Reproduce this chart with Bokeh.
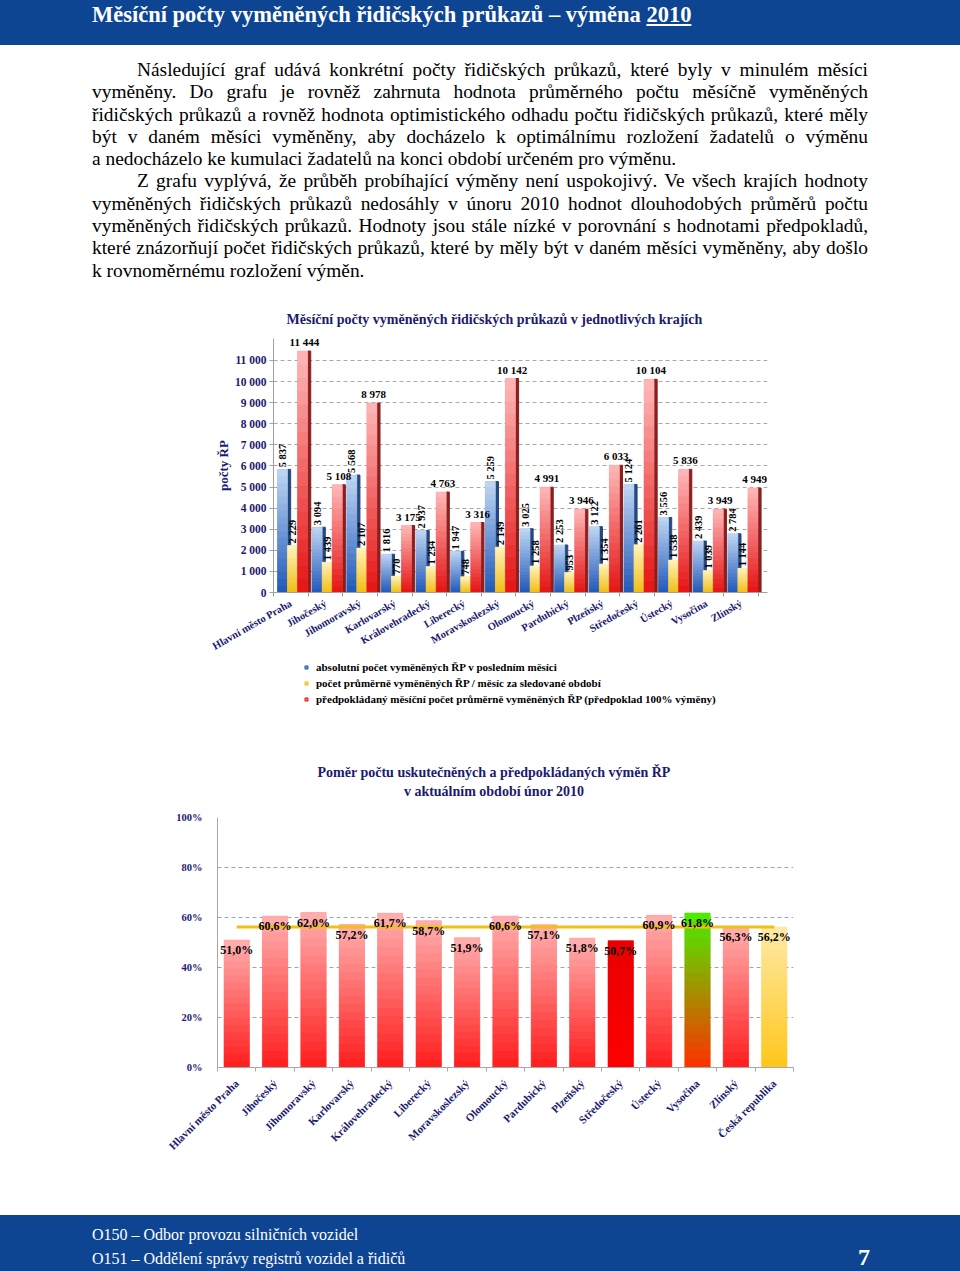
from bokeh.plotting import figure
from bokeh.models import (Range1d, ColumnDataSource, Div, Title, Legend,
                          LegendItem, FixedTicker)
from bokeh.transform import dodge
from bokeh.layouts import column
from bokeh.core.properties import value
from bokeh.embed import file_html
from bokeh.resources import INLINE

# ---------------- data ----------------
kraje = ["Hlavní město Praha", "Jihočeský", "Jihomoravský", "Karlovarský", "Královehradecký",
         "Liberecký", "Moravskoslezský", "Olomoucký", "Pardubický", "Plzeňský",
         "Středočeský", "Ústecký", "Vysočina", "Zlínský"]
absolutni = [5837, 3094, 5568, 1816, 2937, 1947, 5259, 3025, 2253, 3122, 5124, 3556, 2439, 2784]
prumerne = [2229, 1439, 2107, 770, 1234, 748, 2149, 1258, 953, 1354, 2261, 1538, 1039, 1144]
predpoklad = [11444, 5108, 8978, 3175, 4763, 3316, 10142, 4991, 3946, 6033, 10104, 5836, 3949, 4949]
y1_ticks = [0, 1000, 2000, 3000, 4000, 5000, 6000, 7000, 8000, 9000, 10000, 11000]
y1_tick_labels = ["0", "1 000", "2 000", "3 000", "4 000", "5 000", "6 000", "7 000",
                  "8 000", "9 000", "10 000", "11 000"]
legenda1 = ["absolutní počet vyměněných ŘP v posledním měsíci",
            "počet průměrně vyměněných ŘP / měsíc za sledované období",
            "předpokládaný měsíční počet průměrně vyměněných ŘP (předpoklad 100% výměny)"]

kraje2 = kraje + ["Česká republika"]
pomer = [51.0, 60.6, 62.0, 57.2, 61.7, 58.7, 51.9, 60.6, 57.1, 51.8, 50.7, 60.9, 61.8, 56.3, 56.2]
pomer_cr = 56.2
y2_ticks = [0, 20, 40, 60, 80, 100]
y2_tick_labels = ["0%", "20%", "40%", "60%", "80%", "100%"]
titulek2 = ["Poměr počtu uskutečněných a předpokládaných výměn ŘP",
            "v aktuálním období únor 2010"]

nadpis = "Měsíční počty vyměněných řidičských průkazů – výměna"
nadpis_rok = "2010"
odstavec1 = [
    "Následující graf udává konkrétní počty řidičských průkazů, které byly v\u00a0minulém měsíci",
    "vyměněny. Do grafu je rovněž zahrnuta hodnota průměrného počtu měsíčně vyměněných",
    "řidičských průkazů a rovněž hodnota optimistického odhadu počtu řidičských průkazů, které měly",
    "být v\u00a0daném měsíci vyměněny, aby docházelo k\u00a0optimálnímu rozložení žadatelů o výměnu",
    "a nedocházelo ke kumulaci žadatelů na konci období určeném pro výměnu.",
]
odstavec2 = [
    "Z grafu vyplývá, že průběh probíhající výměny není uspokojivý. Ve všech krajích hodnoty",
    "vyměněných řidičských průkazů nedosáhly v\u00a0únoru 2010 hodnot dlouhodobých průměrů počtu",
    "vyměněných řidičských průkazů. Hodnoty jsou stále nízké v\u00a0porovnání s\u00a0hodnotami předpokladů,",
    "které znázorňují počet řidičských průkazů, které by měly být v\u00a0daném měsíci vyměněny, aby došlo",
    "k\u00a0rovnoměrnému rozložení výměn.",
]
zapati = ["O150 – Odbor provozu silničních vozidel",
          "O151 – Oddělení správy registrů vozidel a řidičů"]
cislo_strany = "7"

# ---------------- styles ----------------
SERIF = "Liberation Serif"
NAVY = "#1b1b6e"
HEAD_BLUE = "#0d4593"
PAGE_W = 960


def hex2rgb(h):
    return tuple(int(h[i:i + 2], 16) for i in (1, 3, 5))


def mix(c_bottom, c_top, t):
    a, b = hex2rgb(c_bottom), hex2rgb(c_top)
    return "#%02x%02x%02x" % tuple(int(round(a[i] + (b[i] - a[i]) * t)) for i in range(3))


def gradient_bars(p, xs, vals, offset, width, tops, bottoms, n=18):
    gx, gb, gt, gc = [], [], [], []
    for x, v, tc, bc in zip(xs, vals, tops, bottoms):
        for k in range(n):
            gx.append(x)
            gb.append(v * k / n)
            gt.append(v * (k + 1) / n)
            gc.append(mix(bc, tc, (k + 0.5) / n))
    src = ColumnDataSource(dict(x=gx, b=gb, t=gt, c=gc))
    p.vbar(x=dodge("x", offset), width=width, bottom="b", top="t",
           fill_color="c", line_color="c", line_width=0.6, source=src)


# ---------------- header / text ----------------
header = Div(
    text=(f'<div style="position:relative;width:{PAGE_W}px;height:45px;'
          f'background:{HEAD_BLUE};color:white;font-family:\'{SERIF}\';font-weight:bold;">'
          f'<div style="position:absolute;left:92px;top:2px;font-size:22.5px;line-height:26px;'
          f'white-space:nowrap;">{nadpis} <u>{nadpis_rok}</u></div></div>'),
    width=PAGE_W, height=45, margin=0)


def line_div(t, justify, indent):
    ind = 45 if indent else 0
    al = "justify" if justify else "left"
    return (f'<div style="margin-left:{ind}px;width:{776 - ind}px;white-space:nowrap;'
            f'text-align:{al};text-align-last:{al};height:22.3px;">{t}</div>')


html = ""
for para in (odstavec1, odstavec2):
    for i, t in enumerate(para):
        html += line_div(t, i < len(para) - 1, i == 0)
text_div = Div(
    text=(f'<div style="padding-left:92px;padding-top:14px;font-family:\'{SERIF}\';'
          f'font-size:19.4px;line-height:22.3px;color:#000;">{html}</div>'),
    width=PAGE_W, height=245, margin=0)

# ---------------- chart 1 ----------------
pozice = list(range(len(kraje)))
p1 = figure(x_range=Range1d(-0.5, len(kraje) - 0.24), y_range=Range1d(0, 12040),
            width=PAGE_W, height=369, min_border_left=273, min_border_right=193,
            min_border_top=48, min_border_bottom=66, toolbar_location=None,
            output_backend="svg", title=None, outline_line_color=None, margin=0,
            frame_align=False)
p1.add_layout(Title(text="Měsíční počty vyměněných řidičských průkazů v jednotlivých krajích",
                    text_font=SERIF, text_font_size="14px", text_font_style="bold",
                    text_color=NAVY, align="left", offset=13, standoff=24), "above")

W = 0.29
OFF = [-0.24, 0.05, 0.34]
SIDE_W = 0.09
series = [
    (absolutni, "#5d8fd4", "#c2d8f4", "#1f57b8", "#24487f"),
    (prumerne, "#f5d35a", "#fff4bd", "#f0bd12", "#a98918"),
    (predpoklad, "#f26b6b", "#ffb9b9", "#e51212", "#8a1f1f"),
]
src1 = ColumnDataSource(dict(i=pozice, a=absolutni, b=prumerne, c=predpoklad))
cols = ["a", "b", "c"]
for (vals, mid, top, bot, side), off, col in zip(series, OFF, cols):
    p1.vbar(x=dodge("i", off + W / 2 + SIDE_W / 2), width=SIDE_W,
            top=col, bottom=0, fill_color=side, line_color=side, source=src1)
    p1.vbar(x=dodge("i", off), width=W, top=col, bottom=0,
            fill_color=mid, line_color=None, source=src1)
    gradient_bars(p1, pozice, vals, off, W, [top] * len(vals), [bot] * len(vals))

fmt = lambda v: f"{v:,}".replace(",", " ")
lab1 = ColumnDataSource(dict(i=pozice, a=absolutni, b=prumerne, c=predpoklad,
                             la=[fmt(v) for v in absolutni], lb=[fmt(v) for v in prumerne],
                             lc=[fmt(v) for v in predpoklad]))
for off, col in ((OFF[0], "a"), (OFF[1], "b")):
    p1.text(x=dodge("i", off), y=col, text="l" + col, angle=1.5708,
            text_align="left", text_baseline="middle", x_offset=0, y_offset=-2,
            text_font=value(SERIF), text_font_size="10.5px", text_font_style="bold",
            text_color="#000000", source=lab1)
p1.text(x=dodge("i", OFF[2] + 0.05), y="c", text="lc",
        text_align="center", text_baseline="bottom", y_offset=-3,
        text_font=value(SERIF), text_font_size="11px", text_font_style="bold",
        text_color="#000000", source=lab1)

p1.yaxis.ticker = FixedTicker(ticks=y1_ticks)
p1.yaxis.major_label_overrides = dict(zip(y1_ticks, y1_tick_labels))
p1.xaxis.ticker = FixedTicker(ticks=pozice, minor_ticks=[i - 0.5 for i in range(len(kraje) + 1)])
p1.xaxis.major_label_overrides = dict(zip(pozice, kraje))
p1.yaxis.axis_label = "počty ŘP"
p1.yaxis.axis_label_text_font = SERIF
p1.yaxis.axis_label_text_font_size = "13px"
p1.yaxis.axis_label_text_font_style = "bold"
p1.yaxis.axis_label_text_color = NAVY
p1.yaxis.axis_label_standoff = 1
p1.yaxis.major_tick_out = 4
p1.yaxis.major_tick_in = 0
p1.yaxis.minor_tick_line_color = None
p1.yaxis.major_label_standoff = 3
p1.xaxis.major_label_orientation = 0.52
p1.xaxis.major_label_standoff = 4
p1.xaxis.minor_tick_out = 4
p1.xaxis.minor_tick_in = 0
p1.xaxis.minor_tick_line_color = "#a0a0a0"
for ax in (p1.xaxis, p1.yaxis):
    ax.major_label_text_font = SERIF
    ax.major_label_text_font_style = "bold"
    ax.major_label_text_color = NAVY
    ax.axis_line_color = "#a0a0a0"
    ax.major_tick_line_color = "#a0a0a0"
p1.xaxis.major_tick_line_color = None
p1.yaxis.major_label_text_font_size = "11.5px"
p1.xaxis.major_label_text_font_size = "10.5px"
p1.xgrid.grid_line_color = None
p1.ygrid.grid_line_color = "#a8a8a8"
p1.ygrid.grid_line_dash = "4 3"

# legend of chart 1 (own strip below the chart); the swatch glyphs sit outside the view
pl = figure(width=PAGE_W, height=61, x_range=Range1d(0, 1), y_range=Range1d(0, 1),
            min_border=0, toolbar_location=None, output_backend="svg", title=None,
            outline_line_color=None, margin=0, x_axis_location=None, y_axis_location=None,
            frame_align=False)
pl.xgrid.grid_line_color = None
pl.ygrid.grid_line_color = None
leg_items = []
for (vals, mid, top, bot, side), name in zip(series, legenda1):
    r = pl.scatter(x=[-5], y=[-5], marker="square", size=7, fill_color=mid, line_color=bot,
                   line_width=0.8)
    leg_items.append(LegendItem(label=name, renderers=[r]))
leg = Legend(items=leg_items, location=(302, 13), padding=0, margin=0, spacing=0,
             glyph_width=8, glyph_height=16, label_height=16, label_standoff=6,
             label_text_font=SERIF, label_text_font_size="11px", label_text_font_style="bold",
             label_text_color="#000000", border_line_color=None, background_fill_alpha=0)
pl.add_layout(leg)

# ---------------- chart 2 ----------------
title2 = Div(
    text=(f'<div style="position:relative;width:{PAGE_W}px;height:85px;">'
          f'<div style="position:absolute;left:194px;width:600px;top:43px;text-align:center;'
          f'font-family:\'{SERIF}\';font-weight:bold;font-size:14px;line-height:19px;'
          f'color:{NAVY};">{titulek2[0]}<br>{titulek2[1]}</div></div>'),
    width=PAGE_W, height=85, margin=0)

pozice2 = list(range(len(kraje2)))
p2 = figure(x_range=Range1d(-0.5, len(kraje2) - 0.5), y_range=Range1d(0, 100),
            width=PAGE_W, height=360, min_border_left=217, min_border_right=167,
            min_border_top=12, min_border_bottom=98, toolbar_location=None,
            output_backend="svg", title=None, outline_line_color=None, margin=0,
            frame_align=False)

top_cols = ["#ffb0b0"] * 10 + ["#e80000", "#ffb0b0", "#48f000", "#ffb0b0", "#ffeaa8"]
bot_cols = ["#ff1c1c"] * 10 + ["#ff0000", "#ff1c1c", "#ff3000", "#ff1c1c", "#ffc61a"]
mid_cols = ["#ff6a6a"] * 10 + ["#f40000", "#ff6a6a", "#a89000", "#ff6a6a", "#ffd860"]
src2 = ColumnDataSource(dict(i=pozice2, kraj=kraje2, v=pomer, c=mid_cols,
                             lbl=[f"{v:.1f}".replace(".", ",") + "%" for v in pomer]))
p2.vbar(x="i", top="v", bottom=0, width=0.66, fill_color="c", line_color=None, source=src2)
gradient_bars(p2, pozice2, pomer, 0, 0.66, top_cols, bot_cols)
p2.line(x=[pozice2[0], pozice2[-1]], y=[pomer_cr, pomer_cr], line_color="#f2c014", line_width=3)
p2.text(x="i", y="v", text="lbl", text_align="center", text_baseline="middle", y_offset=10,
        text_font=value(SERIF), text_font_size="12px", text_font_style="bold",
        text_color="#000000", source=src2)

p2.yaxis.ticker = FixedTicker(ticks=y2_ticks)
p2.yaxis.major_label_overrides = dict(zip(y2_ticks, y2_tick_labels))
p2.xaxis.ticker = FixedTicker(ticks=pozice2,
                              minor_ticks=[i - 0.5 for i in range(len(kraje2) + 1)])
p2.xaxis.major_label_overrides = dict(zip(pozice2, kraje2))
p2.yaxis.major_tick_line_color = None
p2.yaxis.minor_tick_line_color = None
p2.yaxis.major_label_standoff = 9
p2.xaxis.major_label_orientation = 0.785
p2.xaxis.major_tick_line_color = None
p2.xaxis.minor_tick_out = 4
p2.xaxis.minor_tick_in = 0
p2.xaxis.minor_tick_line_color = "#a8a8a8"
p2.xaxis.major_label_standoff = 8
for ax in (p2.xaxis, p2.yaxis):
    ax.major_label_text_font = SERIF
    ax.major_label_text_font_style = "bold"
    ax.major_label_text_color = NAVY
    ax.axis_line_color = "#a8a8a8"
p2.yaxis.major_label_text_font_size = "10.5px"
p2.xaxis.major_label_text_font_size = "11px"
p2.xgrid.grid_line_color = None
p2.ygrid.grid_line_color = "#98a6b8"
p2.ygrid.grid_line_dash = "4 3"

# ---------------- footer ----------------
spacer = Div(text="", width=PAGE_W, height=50, margin=0)
footer = Div(
    text=(f'<div style="position:relative;width:{PAGE_W}px;height:56px;'
          f'background:{HEAD_BLUE};color:white;font-family:\'{SERIF}\';">'
          f'<div style="position:absolute;left:92px;top:11px;font-size:16px;line-height:18px;'
          f'white-space:nowrap;">{zapati[0]}</div>'
          f'<div style="position:absolute;left:92px;top:35px;font-size:16px;line-height:18px;'
          f'white-space:nowrap;">{zapati[1]}</div>'
          f'<div style="position:absolute;left:858px;top:29px;font-size:24px;line-height:26px;'
          f'font-weight:bold;">{cislo_strany}</div></div>'),
    width=PAGE_W, height=56, margin=0)

layout = column(header, text_div, p1, pl, title2, p2, spacer, footer, spacing=0)
open("out.html", "w").write(file_html(layout, INLINE))
